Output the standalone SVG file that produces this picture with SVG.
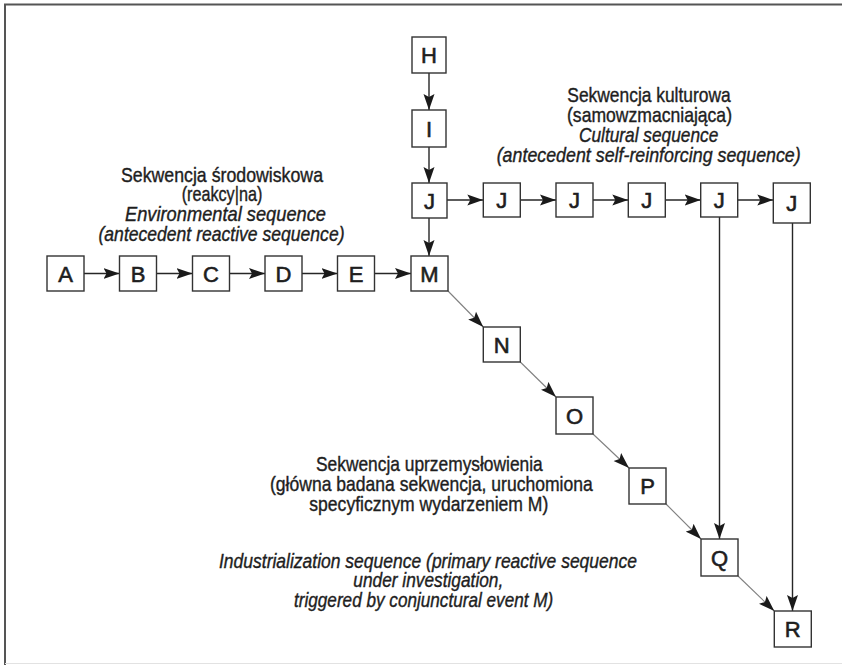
<svg xmlns="http://www.w3.org/2000/svg" width="842" height="665" viewBox="0 0 842 665">
  <style>
    .box { fill: #ffffff; stroke: #333333; stroke-width: 1.4; }
    .lbl { font-family: "Liberation Sans", Arial, sans-serif; font-size: 22px; fill: #1e1e1e; stroke: #1e1e1e; stroke-width: 0.6; text-anchor: middle; }
    .txt { font-family: "Liberation Sans", Arial, sans-serif; font-size: 21px; fill: #1e1e1e; stroke: #1e1e1e; stroke-width: 0.4; }
    .it { font-style: italic; }
    .solid { stroke: #262626; stroke-width: 1.4; fill: none; marker-end: url(#arr); }
    .thin { stroke: #808080; stroke-width: 1.1; fill: none; marker-end: url(#arr); }
  </style>
  <defs>
    <marker id="arr" viewBox="0 0 16 12" refX="16" refY="6" markerWidth="16" markerHeight="12" markerUnits="userSpaceOnUse" orient="auto">
      <path d="M0,0.5 L16,6 L0,11.5 L3,6 Z" fill="#1a1a1a"/>
    </marker>
  </defs>

  <!-- frame -->
  <path d="M5,665 V4.5 H842" fill="none" stroke="#555555" stroke-width="2"/>
  <line x1="5" y1="663.5" x2="842" y2="663.5" stroke="#e2e2e2" stroke-width="1"/>

  <!-- connectors -->
  <g id="connectors">
    <line class="solid" x1="84" y1="273.5" x2="119.5" y2="273.5"/>
    <line class="solid" x1="156.5" y1="273.5" x2="192.5" y2="273.5"/>
    <line class="solid" x1="229.5" y1="273.5" x2="265" y2="273.5"/>
    <line class="solid" x1="302" y1="273.5" x2="337.5" y2="273.5"/>
    <line class="solid" x1="374.5" y1="273.5" x2="411" y2="273.5"/>
    <line class="solid" x1="429" y1="73" x2="429" y2="110"/>
    <line class="solid" x1="429" y1="147" x2="429" y2="183"/>
    <line class="solid" x1="429" y1="218" x2="429" y2="256"/>
    <line class="solid" x1="447" y1="200" x2="483.3" y2="200"/>
    <line class="solid" x1="520.3" y1="200" x2="556" y2="200"/>
    <line class="solid" x1="593" y1="200" x2="628.3" y2="200"/>
    <line class="solid" x1="665.3" y1="200" x2="700.7" y2="200"/>
    <line class="solid" x1="737.7" y1="200" x2="773.3" y2="200"/>
    <line class="solid" x1="719.5" y1="217" x2="719.5" y2="539"/>
    <line class="solid" x1="792.5" y1="223" x2="792.5" y2="611"/>
    <line class="thin" x1="448" y1="291" x2="483.3" y2="327"/>
    <line class="thin" x1="520.3" y1="362" x2="556" y2="397"/>
    <line class="thin" x1="593" y1="434" x2="629" y2="468"/>
    <line class="thin" x1="666" y1="504" x2="701" y2="539"/>
    <line class="thin" x1="738" y1="576" x2="774.3" y2="611"/>
  </g>

  <!-- environmental sequence -->
  <g id="A"><rect class="box" x="47" y="256" width="37" height="35"/><text class="lbl" x="65.5" y="281.5">A</text></g>
  <g id="B"><rect class="box" x="119.5" y="256" width="37" height="35"/><text class="lbl" x="138" y="281.5">B</text></g>
  <g id="C"><rect class="box" x="192.5" y="256" width="37" height="35"/><text class="lbl" x="211" y="281.5">C</text></g>
  <g id="D"><rect class="box" x="265" y="256" width="37" height="35"/><text class="lbl" x="283.5" y="281.5">D</text></g>
  <g id="E"><rect class="box" x="337.5" y="256" width="37" height="35"/><text class="lbl" x="356" y="281.5">E</text></g>
  <g id="M"><rect class="box" x="411" y="256" width="37" height="35"/><text class="lbl" x="429.5" y="281.5">M</text></g>

  <!-- column above M -->
  <g id="H"><rect class="box" x="412" y="37" width="34" height="36"/><text class="lbl" x="429" y="63">H</text></g>
  <g id="I"><rect class="box" x="412" y="110" width="34" height="37"/><text class="lbl" x="429" y="136.5">I</text></g>

  <!-- cultural sequence -->
  <g id="J1"><rect class="box" x="412" y="183" width="35" height="35"/><text class="lbl" x="429.5" y="208.5">J</text></g>
  <g id="J2"><rect class="box" x="483.3" y="183" width="37" height="34"/><text class="lbl" x="501.8" y="208">J</text></g>
  <g id="J3"><rect class="box" x="556" y="183" width="37" height="34"/><text class="lbl" x="574.5" y="208">J</text></g>
  <g id="J4"><rect class="box" x="628.3" y="183" width="37" height="34"/><text class="lbl" x="646.8" y="208">J</text></g>
  <g id="J5"><rect class="box" x="700.7" y="183" width="37" height="34"/><text class="lbl" x="719.2" y="208">J</text></g>
  <g id="J6"><rect class="box" x="773.3" y="183" width="37" height="40"/><text class="lbl" x="791.8" y="211">J</text></g>

  <!-- industrialization sequence -->
  <g id="N"><rect class="box" x="483.3" y="327" width="37" height="35"/><text class="lbl" x="501.8" y="352.5">N</text></g>
  <g id="O"><rect class="box" x="556" y="397" width="37" height="37"/><text class="lbl" x="574.5" y="423.5">O</text></g>
  <g id="P"><rect class="box" x="629" y="468" width="37" height="36"/><text class="lbl" x="647.5" y="494">P</text></g>
  <g id="Q"><rect class="box" x="701" y="539" width="37" height="37"/><text class="lbl" x="719.5" y="565.5">Q</text></g>
  <g id="R"><rect class="box" x="774.3" y="611" width="37" height="36"/><text class="lbl" x="792.8" y="637">R</text></g>

  <!-- captions -->
  <g id="caption-environmental">
    <text class="txt" x="121" y="181.5" textLength="202" lengthAdjust="spacingAndGlyphs">Sekwencja środowiskowa</text>
    <text class="txt" x="181.7" y="200.5" textLength="80.6" lengthAdjust="spacingAndGlyphs">(reakcy|na)</text>
    <text class="txt it" x="125" y="220.5" textLength="201" lengthAdjust="spacingAndGlyphs">Environmental sequence</text>
    <text class="txt it" x="98.5" y="240.5" textLength="246" lengthAdjust="spacingAndGlyphs">(antecedent reactive sequence)</text>
  </g>
  <g id="caption-cultural">
    <text class="txt" x="567.3" y="101.5" textLength="163.4" lengthAdjust="spacingAndGlyphs">Sekwencja kulturowa</text>
    <text class="txt" x="567" y="121.5" textLength="165" lengthAdjust="spacingAndGlyphs">(samowzmacniająca)</text>
    <text class="txt it" x="579" y="141.5" textLength="139.3" lengthAdjust="spacingAndGlyphs">Cultural sequence</text>
    <text class="txt it" x="496.7" y="161.5" textLength="304" lengthAdjust="spacingAndGlyphs">(antecedent self-reinforcing sequence)</text>
  </g>
  <g id="caption-industrialization">
    <text class="txt" x="316" y="470.5" textLength="226.7" lengthAdjust="spacingAndGlyphs">Sekwencja uprzemysłowienia</text>
    <text class="txt" x="270" y="491.3" textLength="322.7" lengthAdjust="spacingAndGlyphs">(główna badana sekwencja, uruchomiona</text>
    <text class="txt" x="309.3" y="511" textLength="239" lengthAdjust="spacingAndGlyphs">specyficznym wydarzeniem M)</text>
    <text class="txt it" x="219" y="567.5" textLength="418" lengthAdjust="spacingAndGlyphs">Industrialization sequence (primary reactive sequence</text>
    <text class="txt it" x="353.3" y="587" textLength="150" lengthAdjust="spacingAndGlyphs">under investigation,</text>
    <text class="txt it" x="294" y="606.5" textLength="259.3" lengthAdjust="spacingAndGlyphs">triggered by conjunctural event M)</text>
  </g>
</svg>
